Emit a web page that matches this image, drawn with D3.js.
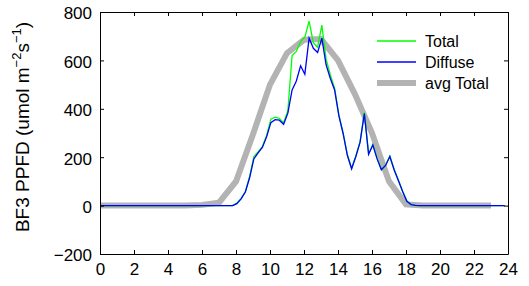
<!DOCTYPE html>
<html><head><meta charset="utf-8">
<script src="https://cdn.jsdelivr.net/npm/d3@7"></script>
<style>body{margin:0;background:#fff}svg{display:block}text{font-family:"Liberation Sans",Arial,sans-serif;fill:#000}</style>
</head><body><svg id="c" width="529" height="286"></svg>
<script>
// Quarter-hour measurements (hours), values in umol m^-2 s^-1
const totalValues = [
 0,0,0,0, 0,0,0,0, 0,0,0,0, 0,0,0,0, 0,0,0,0, 0,0,0,0, // 0-5.75
 0,0,0,0, 0,0,0,0, // 6-7.75
 10,30,58,120, 203,222,244,290, 357,365,361,342, // 8-10.75
 392,620,637,678, 696,762,672,655, 746,605,540,485, // 11-13.75
 375,300,210,154, 205,265,385,214, 252,195,150,168, // 14-16.75
 205,150,106,60, 20,5,2,0, // 17-18.75
 0,0,0,0, 0,0,0,0, 0,0,0,0, 0,0,0,0, 0,0,0,0 // 19-23.75
];
const diffuseValues = [
 0,0,0,0, 0,0,0,0, 0,0,0,0, 0,0,0,0, 0,0,0,0, 0,0,0,0,
 0,0,0,0, 0,0,0,0,
 8,28,56,115, 193,218,240,284, 343,355,353,336,
 382,478,515,578, 543,692,650,633, 692,582,525,478,
 372,298,208,152, 203,262,380,212, 250,193,148,166,
 203,148,104,58, 18,4,1,0,
 0,0,0,0, 0,0,0,0, 0,0,0,0, 0,0,0,0, 0,0,0,0
];
const avgHours = [0,1,2,3,4,5,6,7,8,9,10,11,12,13,14,15,16,17,18,19,20,21,22,23];
const avgTotal = [0,0,0,0,0,0,3,12,100,295,500,630,685,688,600,460,300,100,5,0,0,0,0,0];
const xTicks = [0,2,4,6,8,10,12,14,16,18,20,22,24];
const yTicks = [-200,0,200,400,600,800];
const legendLabels = ["Total","Diffuse","avg Total"];

const svg = d3.select("#c");
const L=100,R=508,T=12,B=254;
const x = d3.scaleLinear().domain([0,24]).range([L,R]);
const y = d3.scaleLinear().domain([-200,800]).range([B,T]);
const times = d3.range(totalValues.length).map(i=>i*0.25+0.05);

const line = d3.line().x(d=>x(d[0])).y(d=>y(d[1]));
svg.append("path").datum(avgHours.map((h,i)=>[h,avgTotal[i]]))
  .attr("d",line).attr("fill","none").attr("stroke","#b3b3b3").attr("stroke-width",6);
svg.append("path").datum(times.map((t,i)=>[t,totalValues[i]]))
  .attr("d",line).attr("fill","none").attr("stroke","#00ff00").attr("stroke-width",1.3);
svg.append("path").datum(times.map((t,i)=>[t,diffuseValues[i]]))
  .attr("d",line).attr("fill","none").attr("stroke","#0000ff").attr("stroke-width",1.3);

// axes box with inward ticks
const fmt = d=> d<0 ? "\u2212"+Math.abs(d) : String(d);
const axB = d3.axisBottom(x).tickValues(xTicks).tickSizeInner(-4).tickSizeOuter(0).tickFormat(d=>d);
const axT = d3.axisTop(x).tickValues(xTicks).tickSizeInner(-4).tickSizeOuter(0).tickFormat("");
const axLf = d3.axisLeft(y).tickValues(yTicks).tickSizeInner(-4).tickSizeOuter(0).tickFormat(fmt);
const axRt = d3.axisRight(y).tickValues(yTicks).tickSizeInner(-4).tickSizeOuter(0).tickFormat("");
const gB = svg.append("g").attr("transform",`translate(0,${B})`).call(axB);
const gT = svg.append("g").attr("transform",`translate(0,${T})`).call(axT);
const gL = svg.append("g").attr("transform",`translate(${L},0)`).call(axLf);
const gR = svg.append("g").attr("transform",`translate(${R},0)`).call(axRt);
[gB,gT,gL,gR].forEach(g=>{g.selectAll("path,line").attr("stroke","#000").attr("stroke-width",1);
  g.selectAll("text").attr("font-family",'"Liberation Sans",Arial,sans-serif').attr("font-size",17).attr("fill","#000");});
gB.selectAll("text").attr("y",9).attr("dy","0.71em");
gL.selectAll("text").attr("x",-8).attr("dy","0.4em");

// y label
const yl = svg.append("text").attr("transform","translate(29,127) rotate(-90)")
  .attr("text-anchor","middle").attr("font-size",19);
yl.append("tspan").text("BF3 PPFD (umol m");
yl.append("tspan").attr("font-size",13).attr("dy",-8).text("\u22122");
yl.append("tspan").attr("dy",8).text("s");
yl.append("tspan").attr("font-size",13).attr("dy",-8).text("\u22121");
yl.append("tspan").attr("dy",8).text(")");

// legend
const lg = svg.append("g");
const lgColors=["#00ff00","#0000ff","#b3b3b3"], lgW=[1.3,1.3,6];
legendLabels.forEach((s,i)=>{
  const yy=41+i*21;
  lg.append("line").attr("x1",377).attr("x2",416).attr("y1",yy).attr("y2",yy)
    .attr("stroke",lgColors[i]).attr("stroke-width",lgW[i]);
  lg.append("text").attr("x",425).attr("y",yy).attr("dy","0.36em").attr("font-size",16).text(s);
});
</script></body></html>
